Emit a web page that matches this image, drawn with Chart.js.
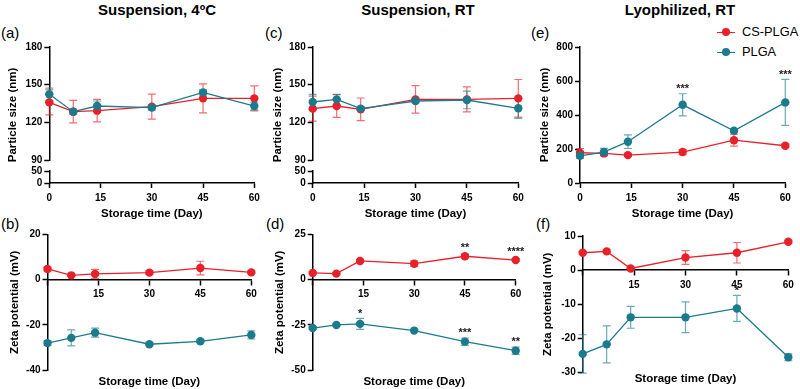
<!DOCTYPE html>
<html>
<head>
<meta charset="utf-8">
<script src="https://cdn.jsdelivr.net/npm/chart.js@4.4.1/dist/chart.umd.min.js"></script>
<style>
  body { margin: 0; background: #fff; }
  #wrap { position: relative; width: 800px; height: 389px; overflow: hidden;
          font-family: "Liberation Sans", Arial, Helvetica, sans-serif; color: #000; }
  canvas { position: absolute; }
  .title { position: absolute; font-weight: bold; font-size: 15px; white-space: nowrap;
           transform: translate(-50%, -50%); }
  .tag { position: absolute; font-size: 15px; transform: translateY(-50%); }
  .leg { position: absolute; left: 717px; font-size: 12.8px; line-height: 20px; white-space: nowrap;
         transform: translateY(-50%); }
  .mk { display: inline-block; position: relative; width: 18px; height: 1.5px; background: var(--c);
        vertical-align: middle; margin-right: 7px; }
  .mk::after { content: ''; position: absolute; left: 5px; top: -3.5px; width: 8px; height: 8px;
               border-radius: 50%; background: var(--c); }
</style>
</head>
<body>
<div id="wrap">
  <div class="title" style="left:157px;top:9px">Suspension, 4ºC</div>
  <div class="title" style="left:418px;top:9px">Suspension, RT</div>
  <div class="title" style="left:680px;top:9px">Lyophilized, RT</div>
  <div class="tag" style="left:1px;top:32px">(a)</div>
  <div class="tag" style="left:1px;top:223px">(b)</div>
  <div class="tag" style="left:265px;top:32px">(c)</div>
  <div class="tag" style="left:266px;top:223px">(d)</div>
  <div class="tag" style="left:531px;top:32px">(e)</div>
  <div class="tag" style="left:536px;top:223px">(f)</div>
  <div class="leg" style="top:32px"><span class="mk" style="--c:#e8202a"></span>CS-PLGA</div>
  <div class="leg" style="top:52px"><span class="mk" style="--c:#1b7b8c"></span>PLGA</div>

  <canvas id="chartA" width="265" height="187" style="left:0;top:38px"></canvas>
  <canvas id="chartB" width="265" height="164" style="left:0;top:225px"></canvas>
  <canvas id="chartC" width="265" height="187" style="left:265px;top:38px"></canvas>
  <canvas id="chartD" width="265" height="164" style="left:265px;top:225px"></canvas>
  <canvas id="chartE" width="270" height="187" style="left:530px;top:38px"></canvas>
  <canvas id="chartF" width="270" height="164" style="left:530px;top:225px"></canvas>
</div>

<script>
// ===== DATA =====
const days = [0, 7, 14, 30, 45, 60];

// (a) suspension 4ºC, particle size (nm)
const sizeA_cs = [135.9, 128.5, 129.3, 132.5, 139.1, 139.1];
const sizeA_csErr = [10, 9, 9, 10, 11.5, 10];
const sizeA_pl = [142.3, 128.5, 133, 131.7, 143.8, 133];
const sizeA_plErr = [5, 2, 4, 2, 2, 3];

// (b) suspension 4ºC, zeta potential (mV)
const zetaB_cs = [4.7, 1.9, 2.5, 3.1, 5.1, 3.2];
const zetaB_csErr = [0.8, 0.5, 2, 0.8, 3, 0.6];
const zetaB_pl = [-28, -25.7, -23.4, -28.5, -27.2, -24.4];
const zetaB_plErr = [1, 3.5, 2, 0.6, 0.7, 1.8];

// (c) suspension RT, particle size (nm)
const sizeC_cs = [130.9, 133, 130.4, 138.3, 138.3, 139.1];
const sizeC_csErr = [10, 9, 9, 11, 10, 15];
const sizeC_pl = [136.2, 138.3, 130.9, 137, 137.8, 131.2];
const sizeC_plErr = [6, 4, 1.5, 1.5, 7, 8];

// (d) suspension RT, zeta potential (mV)
const zetaD_cs = [3.7, 3.3, 10.3, 8.8, 12.9, 10.8];
const zetaD_csErr = [0.5, 0.5, 0.8, 1.5, 1, 0.8];
const zetaD_pl = [-26.7, -25, -24.4, -28.1, -34.2, -39.2];
const zetaD_plErr = [0.8, 0.5, 3, 0.5, 2, 2];
const starsD_cs = ['', '', '', '', '**', '****'];
const starsD_pl = ['', '', '*', '', '***', '**'];

// (e) lyophilized RT, particle size (nm)
const sizeE_cs = [178, 174, 164, 182, 252, 219];
const sizeE_csErr = [25, 10, 8, 15, 35, 10];
const sizeE_pl = [160, 182, 243, 460, 307, 474];
const sizeE_plErr = [15, 22, 40, 65, 10, 135];
const starsE_pl = ['', '', '', '***', '', '***'];

// (f) lyophilized RT, zeta potential (mV)
const zetaF_cs = [5.1, 5.5, 0.5, 3.7, 5.1, 8.3];
const zetaF_csErr = [0.4, 0.4, 0.3, 2, 3, 0.4];
const zetaF_pl = [-24.5, -21.7, -13.8, -13.8, -11.2, -25.5];
const zetaF_plErr = [5.6, 5.4, 3.2, 4.5, 3.8, 1];
const starsF_pl = ['', '', '', '', '*', ''];

// ===== STYLE =====
const RED = '#e8202a', RED_LIGHT = 'rgba(232,32,42,0.65)';
const TEAL = '#1b7b8c', TEAL_LIGHT = 'rgba(27,123,140,0.65)';

Chart.defaults.font.family = '"Liberation Sans", Arial, Helvetica, sans-serif';
Chart.defaults.color = '#000';
Chart.defaults.animation = false;

const tickFont = { size: 10, weight: 'bold' };
const titleFont = { size: 11.5, weight: 'bold' };

const fixW = w => s => { s.width = w; };
const fixH = h => s => { s.height = h; };

// error bars + significance stars, positioned through the scales
const errorBars = {
  id: 'errorBars',
  beforeDatasetsDraw(chart) {
    const ctx = chart.ctx;
    chart.data.datasets.forEach(ds => {
      if (!ds.errors) return;
      const xs = chart.scales.x, ys = chart.scales.y;
      ctx.save();
      ctx.strokeStyle = ds.errColor;
      ctx.lineWidth = 1.2;
      ds.data.forEach((p, j) => {
        const e = ds.errors[j];
        if (!e) return;
        const x = xs.getPixelForValue(p.x);
        const lo = ys.getPixelForValue(p.y - e), hi = ys.getPixelForValue(p.y + e);
        ctx.beginPath();
        ctx.moveTo(x, lo); ctx.lineTo(x, hi);
        ctx.moveTo(x - 4, lo); ctx.lineTo(x + 4, lo);
        ctx.moveTo(x - 4, hi); ctx.lineTo(x + 4, hi);
        ctx.stroke();
      });
      ctx.restore();
    });
  },
  afterDatasetsDraw(chart) {
    const ctx = chart.ctx;
    chart.data.datasets.forEach(ds => {
      if (!ds.stars) return;
      const xs = chart.scales.x, ys = chart.scales.y;
      ctx.save();
      ctx.fillStyle = '#222';
      ctx.font = 'bold 11px "Liberation Sans", Arial, sans-serif';
      ctx.textAlign = 'center';
      ctx.textBaseline = 'bottom';
      ds.data.forEach((p, j) => {
        const s = ds.stars[j];
        if (!s) return;
        const x = xs.getPixelForValue(p.x);
        const top = Math.min(ys.getPixelForValue(p.y + (ds.errors[j] || 0)), ys.getPixelForValue(p.y) - 4);
        ctx.fillText(s, x, top + 1);
      });
      ctx.restore();
    });
  }
};

function series(label, vals, errs, stars, color, light, order) {
  return {
    label, order, xAxisID: 'x', yAxisID: 'y',
    data: days.map((d, i) => ({ x: d, y: vals[i] })),
    errors: errs, stars: stars, errColor: light,
    borderColor: color, backgroundColor: color,
    borderWidth: 1.3, pointRadius: 4.2, pointHoverRadius: 4.2, pointBorderWidth: 0,
    tension: 0, clip: false
  };
}

function axisLine(extra) {
  return Object.assign({
    type: 'linear',
    border: { display: true, color: '#000', width: 1.5 },
    grid: { display: true, drawOnChartArea: false, drawTicks: true, tickLength: 5,
            tickWidth: 1.5, tickColor: '#000' }
  }, extra);
}

function yTicks(step) {
  return { stepSize: step, font: tickFont, padding: 2, autoSkip: false };
}

function titleAxis(text, w, pad) {
  return {
    type: 'linear', position: 'left', weight: 1,
    ticks: { display: false }, grid: { display: false }, border: { display: false },
    title: { display: true, text, font: titleFont, padding: { top: pad, bottom: 0 } },
    afterFit: fixW(w)
  };
}

const xBottom = () => axisLine({
  position: 'bottom', min: 0, max: 60,
  ticks: { stepSize: 15, font: tickFont, padding: 4, maxRotation: 0 },
  title: { display: true, text: 'Storage time (Day)', font: titleFont, padding: { top: 0, bottom: 0 } },
  afterFit: fixH(38)
});

function sizeScales(p) {
  const s = { x: xBottom(), yt: titleAxis('Particle size (nm)', p.tw, p.tpad) };
  if (p.broken) {
    // left boxes of equal weight are laid out in reverse order, so the low segment comes first
    s.yLow = axisLine({ position: 'left', stack: 'size', stackWeight: 12, min: 0, max: 50,
      ticks: yTicks(50), afterFit: fixW(p.yw) });
    s.yGap = { type: 'linear', position: 'left', stack: 'size', stackWeight: 11,
      ticks: { display: false }, grid: { display: false }, border: { display: false },
      afterFit: fixW(p.yw) };
    s.y = axisLine({ position: 'left', stack: 'size', stackWeight: 113, min: 90, max: 180,
      ticks: yTicks(30), afterFit: fixW(p.yw) });
  } else {
    s.y = axisLine({ position: 'left', min: p.min, max: p.max,
      ticks: yTicks(p.step), afterFit: fixW(p.yw) });
  }
  return s;
}

function zetaScales(p) {
  return {
    x: axisLine({ position: { y: 0 }, min: 0, max: 60,
      ticks: { stepSize: 15, font: tickFont, padding: 4, maxRotation: 0,
               callback: v => (v === 0 ? '' : v) } }),
    xt: { type: 'linear', position: 'bottom', min: 0, max: 60,
      ticks: { display: false }, grid: { display: false }, border: { display: false },
      title: { display: true, text: 'Storage time (Day)', font: titleFont,
               padding: { top: 0, bottom: p.tpb } },
      afterFit: fixH(p.xth) },
    yt: titleAxis('Zeta potential (mV)', p.tw, p.tpad),
    y: axisLine({ position: 'left', min: p.min, max: p.max,
      ticks: yTicks(p.step), afterFit: fixW(p.yw) })
  };
}

function makeChart(id, datasets, scales, padding) {
  return new Chart(document.getElementById(id), {
    type: 'line',
    data: { datasets },
    options: {
      responsive: false,
      layout: { padding },
      plugins: { legend: { display: false }, tooltip: { enabled: false } },
      scales
    },
    plugins: [errorBars]
  });
}

// ===== CHARTS =====
makeChart('chartA', [
  series('CS-PLGA', sizeA_cs, sizeA_csErr, null, RED, RED_LIGHT, 1),
  series('PLGA', sizeA_pl, sizeA_plErr, null, TEAL, TEAL_LIGHT, 0)
], sizeScales({ broken: true, tw: 20, tpad: 6, yw: 29.3 }),
{ top: 9, right: 10.7, bottom: 4, left: 0 });

makeChart('chartB', [
  series('CS-PLGA', zetaB_cs, zetaB_csErr, null, RED, RED_LIGHT, 1),
  series('PLGA', zetaB_pl, zetaB_plErr, null, TEAL, TEAL_LIGHT, 0)
], zetaScales({ min: -40, max: 20, step: 20, tw: 20, tpad: 8, yw: 27.5, xth: 18.7, tpb: 0.4 }),
{ top: 9.3, right: 13.7, bottom: 0, left: 0 });

makeChart('chartC', [
  series('CS-PLGA', sizeC_cs, sizeC_csErr, null, RED, RED_LIGHT, 1),
  series('PLGA', sizeC_pl, sizeC_plErr, null, TEAL, TEAL_LIGHT, 0)
], sizeScales({ broken: true, tw: 20, tpad: 6.4, yw: 27.7 }),
{ top: 9, right: 11.7, bottom: 4, left: 0 });

makeChart('chartD', [
  series('CS-PLGA', zetaD_cs, zetaD_csErr, starsD_cs, RED, RED_LIGHT, 1),
  series('PLGA', zetaD_pl, zetaD_plErr, starsD_pl, TEAL, TEAL_LIGHT, 0)
], zetaScales({ min: -50, max: 25, step: 25, tw: 20, tpad: 8, yw: 27.7, xth: 18.7, tpb: 0.4 }),
{ top: 9.3, right: 14.3, bottom: 0, left: 0 });

makeChart('chartE', [
  series('CS-PLGA', sizeE_cs, sizeE_csErr, null, RED, RED_LIGHT, 1),
  series('PLGA', sizeE_pl, sizeE_plErr, starsE_pl, TEAL, TEAL_LIGHT, 0)
], sizeScales({ broken: false, min: 0, max: 800, step: 200, tw: 22, tpad: 8, yw: 28 }),
{ top: 9, right: 14.7, bottom: 4, left: 0 });

makeChart('chartF', [
  series('CS-PLGA', zetaF_cs, zetaF_csErr, null, RED, RED_LIGHT, 1),
  series('PLGA', zetaF_pl, zetaF_plErr, starsF_pl, TEAL, TEAL_LIGHT, 0)
], zetaScales({ min: -30, max: 10, step: 10, tw: 22, tpad: 11.4, yw: 30.7, xth: 16.3, tpb: 2.8 }),
{ top: 11, right: 11.7, bottom: 0, left: 0 });
</script>
</body>
</html>
